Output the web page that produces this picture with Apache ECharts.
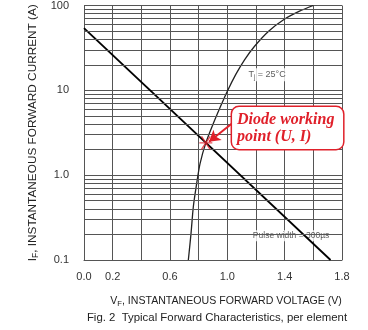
<!DOCTYPE html>
<html><head><meta charset="utf-8">
<script src="https://cdn.jsdelivr.net/npm/echarts@6/dist/echarts.min.js"></script>
<style>html,body{margin:0;padding:0;background:#fff}#c{width:368px;height:330px}</style>
</head><body><div id="c"></div>
<script>
// Diode forward characteristic (V, A)
const diodeV = [0.728, 0.747, 0.763, 0.786, 0.81, 0.85, 0.90, 0.95, 1.0, 1.06, 1.12, 1.19, 1.29, 1.39, 1.5, 1.6];
const diodeI = [0.1, 0.209, 0.427, 0.794, 1.38, 2.4, 3.98, 6.31, 9.77, 15.5, 22.9, 33.1, 50.1, 67.6, 85.1, 100];
// Load line (V, A)
const loadV = [0, 1.72];
const loadI = [54, 0.1];
// Working point
const workV = [0.85];
const workI = [2.4];
// Axis ticks
const xTickLabels = ['0.0', '0.2', '0.6', '1.0', '1.4', '1.8'];
const yTickLabels = {'0.1': '0.1', '1': '1.0', '10': '10', '100': '100'};
const yMinorLines = [0.2,0.3,0.4,0.5,0.6,0.7,0.8,0.9,2,3,4,5,6,7,8,9,20,30,40,50,60,70,80,90];

const chart = echarts.init(document.getElementById('c'), null, {renderer: 'canvas'});
const sans = 'Liberation Sans';
const txt = '#222';
const gridCol = '#555';
const red = '#e0202a';

const subRich = (fs) => ({
  a: {fontSize: fs, fontFamily: sans, color: txt, lineHeight: fs + 3},
  s: {fontSize: fs * 0.72, fontFamily: sans, color: txt, lineHeight: fs * 0.72, padding: [fs * 0.55, 0, 0, 0]}
});

const option = {
  animation: false,
  grid: {left: 84, right: 26, top: 4, bottom: 70, containLabel: false},
  title: {
    text: 'Fig. 2  Typical Forward Characteristics, per element',
    left: 217, top: 312, textAlign: 'center', padding: 0,
    textStyle: {fontFamily: sans, fontSize: 11.4, fontWeight: 'normal', color: txt}
  },
  xAxis: {
    type: 'value', min: 0, max: 1.8, interval: 0.2,
    name: '{a|V}{s|F}{a|, INSTANTANEOUS FORWARD VOLTAGE (V)}',
    nameLocation: 'middle', nameGap: 34,
    nameTextStyle: {rich: subRich(10.6), padding: [0, 0, 0, 26]},
    axisLine: {show: true, lineStyle: {color: gridCol, width: 1}},
    axisTick: {show: false},
    axisLabel: {
      margin: 11, fontFamily: sans, fontSize: 11, color: '#333',
      formatter: v => { const s = (Math.round(v * 10) / 10).toFixed(1); return xTickLabels.indexOf(s) >= 0 ? s : ''; }
    },
    splitLine: {show: true, lineStyle: {color: gridCol, width: 1}}
  },
  yAxis: {
    type: 'log', logBase: 10, min: 0.1, max: 100,
    name: '{a|I}{s|F}{a|, INSTANTANEOUS FORWARD CURRENT (A)}',
    nameLocation: 'middle', nameGap: 44, nameRotate: 90,
    nameTextStyle: {rich: subRich(11.8)},
    axisLine: {show: true, lineStyle: {color: gridCol, width: 1}},
    axisTick: {show: false},
    axisLabel: {
      margin: 15, fontFamily: sans, fontSize: 11, color: '#333',
      formatter: v => { const k = String(+v.toPrecision(3)); return yTickLabels[k] !== undefined ? yTickLabels[k] : ''; }
    },
    splitLine: {show: true, lineStyle: {color: gridCol, width: 1}}
  },
  series: [
    {
      type: 'line', data: [], silent: true, z: 1,
      markLine: {
        silent: true, symbol: 'none', animation: false,
        label: {show: false},
        lineStyle: {color: gridCol, width: 1, type: 'solid'},
        data: yMinorLines.map(v => ({yAxis: v}))
      }
    },
    {
      type: 'scatter', z: 2, silent: true, symbolSize: 1,
      itemStyle: {color: 'rgba(0,0,0,0)'},
      data: [
        {value: [1.277, 15.3], label: {show: true, position: 'inside', formatter: '{a|T}{s|j}{a| = 25°C}',
          backgroundColor: '#fff', padding: [1, 2],
          rich: {a: {fontFamily: sans, fontSize: 9, color: '#333', lineHeight: 11},
                 s: {fontFamily: sans, fontSize: 6.5, color: '#333', lineHeight: 6, padding: [5, 0, 0, 0]}}}},
        {value: [1.445, 0.193], label: {show: true, position: 'inside', formatter: 'Pulse width = 300µs',
          backgroundColor: '#fff', padding: [1, 3], fontFamily: sans, fontSize: 8.5, color: '#333'}}
      ]
    },
    {
      type: 'line', z: 3, silent: true, smooth: 0.3, showSymbol: false,
      lineStyle: {color: '#222', width: 1.3},
      data: diodeV.map((v, i) => [v, diodeI[i]])
    },
    {
      type: 'line', z: 3, silent: true, showSymbol: false,
      lineStyle: {color: '#000', width: 1.8},
      data: loadV.map((v, i) => [v, loadI[i]])
    },
    {
      type: 'scatter', z: 5, silent: true,
      symbol: 'path://M0,6 L12,6 M2,1 L10,11 M2,11 L10,1',
      symbolSize: 13,
      itemStyle: {color: 'none', borderColor: red, borderWidth: 1.4},
      data: workV.map((v, i) => [v, workI[i]]),
      markLine: {
        silent: true, animation: false,
        symbol: ['none', 'arrow'], symbolSize: [10, 11],
        label: {show: false},
        lineStyle: {color: red, width: 2, type: 'solid'},
        data: [[{coord: [1.03, 4.04]}, {coord: [0.872, 2.48]}]]
      },
      markPoint: {
        silent: true, symbol: 'circle', symbolSize: 1,
        itemStyle: {color: 'rgba(0,0,0,0)'},
        data: [{
          coord: [1.033, 3.6],
          label: {
            show: true, position: 'inside',
            formatter: 'Diode working\npoint (U, I)',
            fontFamily: 'Liberation Serif', fontStyle: 'italic', fontWeight: 'bold',
            fontSize: 16, lineHeight: 17, color: red, align: 'left', verticalAlign: 'middle',
            backgroundColor: '#fff', borderColor: red, borderWidth: 1.5, borderRadius: 7,
            padding: [4, 6, 4, 5], width: 100
          }
        }]
      }
    }
  ]
};
chart.setOption(option);
</script>
</body></html>
